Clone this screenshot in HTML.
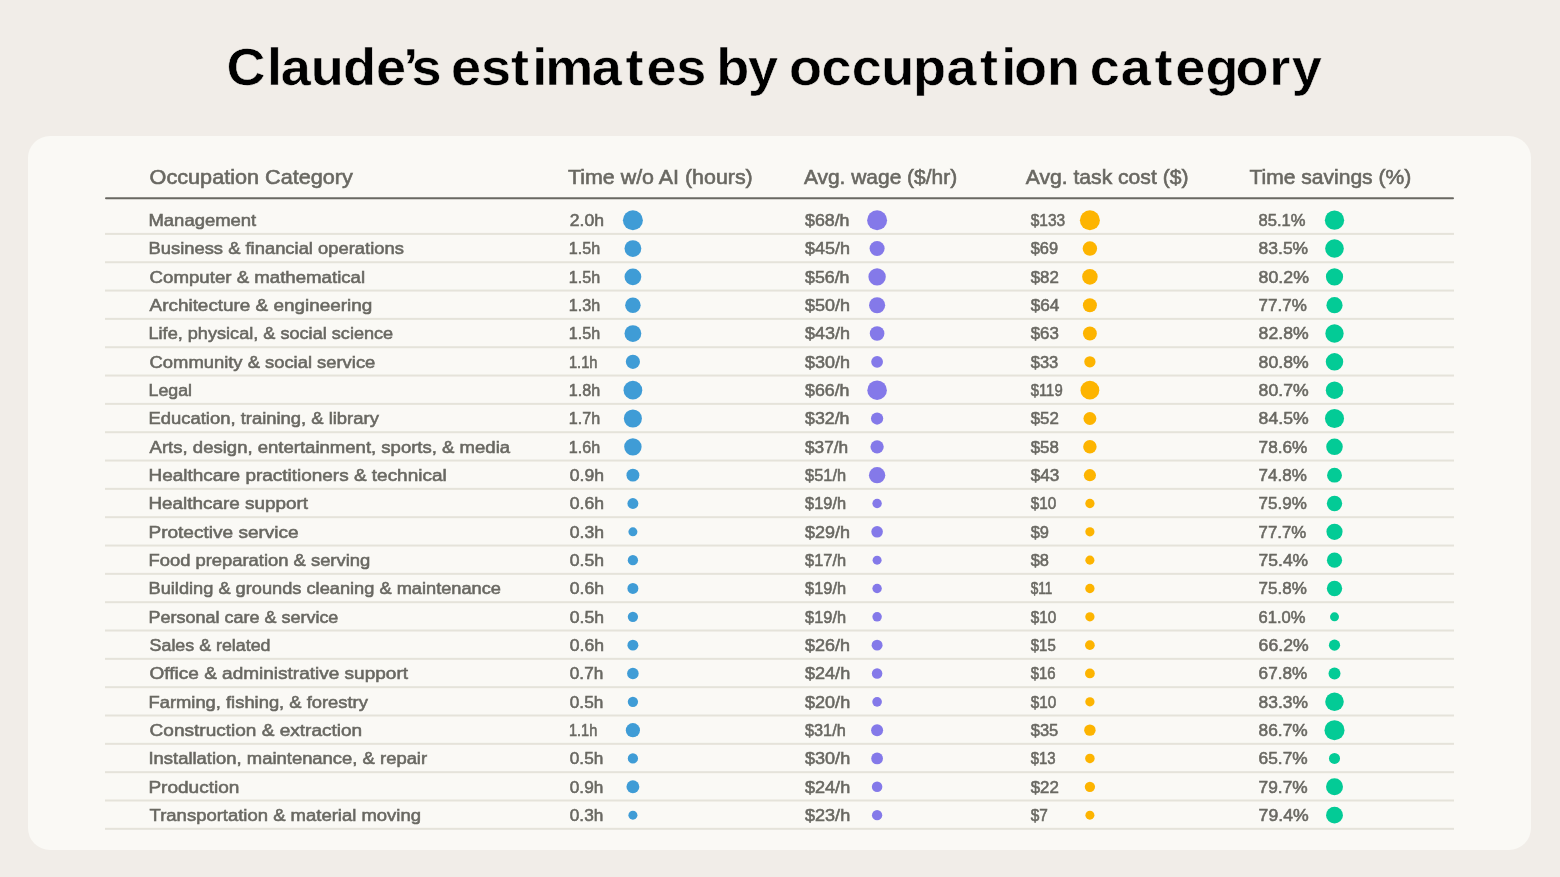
<!DOCTYPE html>
<html><head><meta charset="utf-8"><title>Claude’s estimates by occupation category</title>
<style>
html,body{margin:0;padding:0;background:#F1EDE8;}
body{width:1560px;height:877px;overflow:hidden;}
svg{display:block;}
text{font-family:'Liberation Sans', sans-serif;}
.t{font-size:52.5px;font-weight:700;fill:#000000;stroke:#F1EDE8;stroke-width:0.5px;stroke-linejoin:round;}
.h{font-size:20.8px;font-weight:400;fill:#696862;stroke:#696862;stroke-width:0.6px;}
.r{font-size:16.5px;font-weight:400;fill:#696862;stroke:#696862;stroke-width:0.55px;}
.v{font-size:16.5px;font-weight:400;fill:#696862;stroke:#696862;stroke-width:0.55px;}
</style></head><body>
<svg width="1560" height="877" viewBox="0 0 1560 877">
<rect x="0" y="0" width="1560" height="877" fill="#F1EDE8"/>
<rect x="28" y="136" width="1503" height="714" rx="22" ry="22" fill="#FAF9F5"/>
<rect x="105" y="197.2" width="1349" height="2" rx="1" fill="#696862"/>
<rect x="105" y="232.90" width="1349" height="2" fill="#E5E3DA"/>
<rect x="105" y="261.23" width="1349" height="2" fill="#E5E3DA"/>
<rect x="105" y="289.56" width="1349" height="2" fill="#E5E3DA"/>
<rect x="105" y="317.89" width="1349" height="2" fill="#E5E3DA"/>
<rect x="105" y="346.22" width="1349" height="2" fill="#E5E3DA"/>
<rect x="105" y="374.55" width="1349" height="2" fill="#E5E3DA"/>
<rect x="105" y="402.88" width="1349" height="2" fill="#E5E3DA"/>
<rect x="105" y="431.21" width="1349" height="2" fill="#E5E3DA"/>
<rect x="105" y="459.54" width="1349" height="2" fill="#E5E3DA"/>
<rect x="105" y="487.87" width="1349" height="2" fill="#E5E3DA"/>
<rect x="105" y="516.20" width="1349" height="2" fill="#E5E3DA"/>
<rect x="105" y="544.53" width="1349" height="2" fill="#E5E3DA"/>
<rect x="105" y="572.86" width="1349" height="2" fill="#E5E3DA"/>
<rect x="105" y="601.19" width="1349" height="2" fill="#E5E3DA"/>
<rect x="105" y="629.52" width="1349" height="2" fill="#E5E3DA"/>
<rect x="105" y="657.85" width="1349" height="2" fill="#E5E3DA"/>
<rect x="105" y="686.18" width="1349" height="2" fill="#E5E3DA"/>
<rect x="105" y="714.51" width="1349" height="2" fill="#E5E3DA"/>
<rect x="105" y="742.84" width="1349" height="2" fill="#E5E3DA"/>
<rect x="105" y="771.17" width="1349" height="2" fill="#E5E3DA"/>
<rect x="105" y="799.50" width="1349" height="2" fill="#E5E3DA"/>
<rect x="105" y="827.83" width="1349" height="2" fill="#E5E3DA"/>
<text class="t" transform="scale(1.03,1)" x="220.01 259.21 272.56 301.82 333.04 365.15 391.53 399.63 428.83 437.96 467.05 496.21 516.83 529.36 574.50 607.28 627.57 656.62 685.82 695.39 726.33 755.53 765.93 797.62 827.04 855.55 886.41 918.82 951.40 972.17 984.52 1016.52 1048.59 1058.06 1088.09 1120.82 1141.02 1170.42 1199.57 1232.33 1254.09" y="84.8">Claude’s estimates by occupation category</text>
<text x="149.60" y="184.30" class="h" textLength="203.27" lengthAdjust="spacingAndGlyphs">Occupation Category</text>
<text x="568.00" y="184.30" class="h" textLength="184.75" lengthAdjust="spacingAndGlyphs">Time w/o AI (hours)</text>
<text x="803.90" y="184.30" class="h" textLength="153.23" lengthAdjust="spacingAndGlyphs">Avg. wage ($/hr)</text>
<text x="1025.80" y="184.30" class="h" textLength="162.64" lengthAdjust="spacingAndGlyphs">Avg. task cost ($)</text>
<text x="1249.40" y="184.30" class="h" textLength="161.84" lengthAdjust="spacingAndGlyphs">Time savings (%)</text>
<text x="148.48" y="226.10" class="r" textLength="107.75" lengthAdjust="spacingAndGlyphs">Management</text>
<text x="569.80" y="226.10" class="v" textLength="34.19" lengthAdjust="spacingAndGlyphs">2.0h</text>
<text x="805.00" y="226.10" class="v" textLength="44.49" lengthAdjust="spacingAndGlyphs">$68/h</text>
<text x="1030.70" y="226.10" class="v" textLength="34.57" lengthAdjust="spacingAndGlyphs">$133</text>
<text x="1258.60" y="226.10" class="v" textLength="46.97" lengthAdjust="spacingAndGlyphs">85.1%</text>
<text x="148.49" y="254.43" class="r" textLength="255.39" lengthAdjust="spacingAndGlyphs">Business &amp; financial operations</text>
<text x="568.82" y="254.43" class="v" textLength="31.35" lengthAdjust="spacingAndGlyphs">1.5h</text>
<text x="805.00" y="254.43" class="v" textLength="44.99" lengthAdjust="spacingAndGlyphs">$45/h</text>
<text x="1030.70" y="254.43" class="v" textLength="27.38" lengthAdjust="spacingAndGlyphs">$69</text>
<text x="1258.60" y="254.43" class="v" textLength="49.55" lengthAdjust="spacingAndGlyphs">83.5%</text>
<text x="149.60" y="282.76" class="r" textLength="215.55" lengthAdjust="spacingAndGlyphs">Computer &amp; mathematical</text>
<text x="568.82" y="282.76" class="v" textLength="31.35" lengthAdjust="spacingAndGlyphs">1.5h</text>
<text x="805.00" y="282.76" class="v" textLength="44.49" lengthAdjust="spacingAndGlyphs">$56/h</text>
<text x="1030.70" y="282.76" class="v" textLength="28.18" lengthAdjust="spacingAndGlyphs">$82</text>
<text x="1258.60" y="282.76" class="v" textLength="50.35" lengthAdjust="spacingAndGlyphs">80.2%</text>
<text x="149.60" y="311.09" class="r" textLength="222.60" lengthAdjust="spacingAndGlyphs">Architecture &amp; engineering</text>
<text x="568.82" y="311.09" class="v" textLength="31.35" lengthAdjust="spacingAndGlyphs">1.3h</text>
<text x="805.00" y="311.09" class="v" textLength="44.99" lengthAdjust="spacingAndGlyphs">$50/h</text>
<text x="1030.70" y="311.09" class="v" textLength="28.68" lengthAdjust="spacingAndGlyphs">$64</text>
<text x="1258.60" y="311.09" class="v" textLength="48.26" lengthAdjust="spacingAndGlyphs">77.7%</text>
<text x="148.50" y="339.42" class="r" textLength="244.69" lengthAdjust="spacingAndGlyphs">Life, physical, &amp; social science</text>
<text x="568.82" y="339.42" class="v" textLength="31.35" lengthAdjust="spacingAndGlyphs">1.5h</text>
<text x="805.00" y="339.42" class="v" textLength="44.99" lengthAdjust="spacingAndGlyphs">$43/h</text>
<text x="1030.70" y="339.42" class="v" textLength="28.18" lengthAdjust="spacingAndGlyphs">$63</text>
<text x="1258.60" y="339.42" class="v" textLength="50.05" lengthAdjust="spacingAndGlyphs">82.8%</text>
<text x="149.60" y="367.75" class="r" textLength="225.70" lengthAdjust="spacingAndGlyphs">Community &amp; social service</text>
<text x="568.91" y="367.75" class="v" textLength="28.65" lengthAdjust="spacingAndGlyphs">1.1h</text>
<text x="805.00" y="367.75" class="v" textLength="44.99" lengthAdjust="spacingAndGlyphs">$30/h</text>
<text x="1030.70" y="367.75" class="v" textLength="27.58" lengthAdjust="spacingAndGlyphs">$33</text>
<text x="1258.60" y="367.75" class="v" textLength="50.05" lengthAdjust="spacingAndGlyphs">80.8%</text>
<text x="148.52" y="396.08" class="r" textLength="43.49" lengthAdjust="spacingAndGlyphs">Legal</text>
<text x="568.82" y="396.08" class="v" textLength="31.35" lengthAdjust="spacingAndGlyphs">1.8h</text>
<text x="805.00" y="396.08" class="v" textLength="44.49" lengthAdjust="spacingAndGlyphs">$66/h</text>
<text x="1030.70" y="396.08" class="v" textLength="31.96" lengthAdjust="spacingAndGlyphs">$119</text>
<text x="1258.60" y="396.08" class="v" textLength="50.05" lengthAdjust="spacingAndGlyphs">80.7%</text>
<text x="148.48" y="424.41" class="r" textLength="230.38" lengthAdjust="spacingAndGlyphs">Education, training, &amp; library</text>
<text x="568.82" y="424.41" class="v" textLength="31.35" lengthAdjust="spacingAndGlyphs">1.7h</text>
<text x="805.00" y="424.41" class="v" textLength="44.49" lengthAdjust="spacingAndGlyphs">$32/h</text>
<text x="1030.70" y="424.41" class="v" textLength="28.18" lengthAdjust="spacingAndGlyphs">$52</text>
<text x="1258.60" y="424.41" class="v" textLength="50.05" lengthAdjust="spacingAndGlyphs">84.5%</text>
<text x="149.60" y="452.74" class="r" textLength="360.48" lengthAdjust="spacingAndGlyphs">Arts, design, entertainment, sports, &amp; media</text>
<text x="568.82" y="452.74" class="v" textLength="31.35" lengthAdjust="spacingAndGlyphs">1.6h</text>
<text x="805.00" y="452.74" class="v" textLength="43.18" lengthAdjust="spacingAndGlyphs">$37/h</text>
<text x="1030.70" y="452.74" class="v" textLength="28.18" lengthAdjust="spacingAndGlyphs">$58</text>
<text x="1258.60" y="452.74" class="v" textLength="48.86" lengthAdjust="spacingAndGlyphs">78.6%</text>
<text x="148.45" y="481.07" class="r" textLength="298.21" lengthAdjust="spacingAndGlyphs">Healthcare practitioners &amp; technical</text>
<text x="569.80" y="481.07" class="v" textLength="34.19" lengthAdjust="spacingAndGlyphs">0.9h</text>
<text x="805.00" y="481.07" class="v" textLength="41.08" lengthAdjust="spacingAndGlyphs">$51/h</text>
<text x="1030.70" y="481.07" class="v" textLength="28.68" lengthAdjust="spacingAndGlyphs">$43</text>
<text x="1258.60" y="481.07" class="v" textLength="48.26" lengthAdjust="spacingAndGlyphs">74.8%</text>
<text x="148.46" y="509.40" class="r" textLength="159.57" lengthAdjust="spacingAndGlyphs">Healthcare support</text>
<text x="569.80" y="509.40" class="v" textLength="34.19" lengthAdjust="spacingAndGlyphs">0.6h</text>
<text x="805.00" y="509.40" class="v" textLength="41.08" lengthAdjust="spacingAndGlyphs">$19/h</text>
<text x="1030.70" y="509.40" class="v" textLength="25.56" lengthAdjust="spacingAndGlyphs">$10</text>
<text x="1258.60" y="509.40" class="v" textLength="48.26" lengthAdjust="spacingAndGlyphs">75.9%</text>
<text x="148.45" y="537.73" class="r" textLength="150.26" lengthAdjust="spacingAndGlyphs">Protective service</text>
<text x="569.80" y="537.73" class="v" textLength="34.19" lengthAdjust="spacingAndGlyphs">0.3h</text>
<text x="805.00" y="537.73" class="v" textLength="44.99" lengthAdjust="spacingAndGlyphs">$29/h</text>
<text x="1030.70" y="537.73" class="v" textLength="18.28" lengthAdjust="spacingAndGlyphs">$9</text>
<text x="1258.60" y="537.73" class="v" textLength="47.76" lengthAdjust="spacingAndGlyphs">77.7%</text>
<text x="148.49" y="566.06" class="r" textLength="221.71" lengthAdjust="spacingAndGlyphs">Food preparation &amp; serving</text>
<text x="569.80" y="566.06" class="v" textLength="34.19" lengthAdjust="spacingAndGlyphs">0.5h</text>
<text x="805.00" y="566.06" class="v" textLength="41.08" lengthAdjust="spacingAndGlyphs">$17/h</text>
<text x="1030.70" y="566.06" class="v" textLength="18.28" lengthAdjust="spacingAndGlyphs">$8</text>
<text x="1258.60" y="566.06" class="v" textLength="49.55" lengthAdjust="spacingAndGlyphs">75.4%</text>
<text x="148.50" y="594.39" class="r" textLength="352.50" lengthAdjust="spacingAndGlyphs">Building &amp; grounds cleaning &amp; maintenance</text>
<text x="569.80" y="594.39" class="v" textLength="34.19" lengthAdjust="spacingAndGlyphs">0.6h</text>
<text x="805.00" y="594.39" class="v" textLength="41.08" lengthAdjust="spacingAndGlyphs">$19/h</text>
<text x="1030.70" y="594.39" class="v" textLength="21.65" lengthAdjust="spacingAndGlyphs">$11</text>
<text x="1258.60" y="594.39" class="v" textLength="48.26" lengthAdjust="spacingAndGlyphs">75.8%</text>
<text x="148.51" y="622.72" class="r" textLength="189.88" lengthAdjust="spacingAndGlyphs">Personal care &amp; service</text>
<text x="569.80" y="622.72" class="v" textLength="34.19" lengthAdjust="spacingAndGlyphs">0.5h</text>
<text x="805.00" y="622.72" class="v" textLength="41.08" lengthAdjust="spacingAndGlyphs">$19/h</text>
<text x="1030.70" y="622.72" class="v" textLength="25.56" lengthAdjust="spacingAndGlyphs">$10</text>
<text x="1258.60" y="622.72" class="v" textLength="46.97" lengthAdjust="spacingAndGlyphs">61.0%</text>
<text x="149.60" y="651.05" class="r" textLength="120.89" lengthAdjust="spacingAndGlyphs">Sales &amp; related</text>
<text x="569.80" y="651.05" class="v" textLength="34.19" lengthAdjust="spacingAndGlyphs">0.6h</text>
<text x="805.00" y="651.05" class="v" textLength="44.99" lengthAdjust="spacingAndGlyphs">$26/h</text>
<text x="1030.70" y="651.05" class="v" textLength="25.06" lengthAdjust="spacingAndGlyphs">$15</text>
<text x="1258.60" y="651.05" class="v" textLength="50.05" lengthAdjust="spacingAndGlyphs">66.2%</text>
<text x="149.60" y="679.38" class="r" textLength="258.42" lengthAdjust="spacingAndGlyphs">Office &amp; administrative support</text>
<text x="569.80" y="679.38" class="v" textLength="33.48" lengthAdjust="spacingAndGlyphs">0.7h</text>
<text x="805.00" y="679.38" class="v" textLength="45.19" lengthAdjust="spacingAndGlyphs">$24/h</text>
<text x="1030.70" y="679.38" class="v" textLength="24.96" lengthAdjust="spacingAndGlyphs">$16</text>
<text x="1258.60" y="679.38" class="v" textLength="48.66" lengthAdjust="spacingAndGlyphs">67.8%</text>
<text x="148.49" y="707.71" class="r" textLength="219.38" lengthAdjust="spacingAndGlyphs">Farming, fishing, &amp; forestry</text>
<text x="569.80" y="707.71" class="v" textLength="33.48" lengthAdjust="spacingAndGlyphs">0.5h</text>
<text x="805.00" y="707.71" class="v" textLength="45.19" lengthAdjust="spacingAndGlyphs">$20/h</text>
<text x="1030.70" y="707.71" class="v" textLength="25.56" lengthAdjust="spacingAndGlyphs">$10</text>
<text x="1258.60" y="707.71" class="v" textLength="49.45" lengthAdjust="spacingAndGlyphs">83.3%</text>
<text x="149.60" y="736.04" class="r" textLength="212.60" lengthAdjust="spacingAndGlyphs">Construction &amp; extraction</text>
<text x="568.92" y="736.04" class="v" textLength="28.34" lengthAdjust="spacingAndGlyphs">1.1h</text>
<text x="805.00" y="736.04" class="v" textLength="40.77" lengthAdjust="spacingAndGlyphs">$31/h</text>
<text x="1030.70" y="736.04" class="v" textLength="27.58" lengthAdjust="spacingAndGlyphs">$35</text>
<text x="1258.60" y="736.04" class="v" textLength="49.06" lengthAdjust="spacingAndGlyphs">86.7%</text>
<text x="148.48" y="764.37" class="r" textLength="278.65" lengthAdjust="spacingAndGlyphs">Installation, maintenance, &amp; repair</text>
<text x="569.80" y="764.37" class="v" textLength="33.48" lengthAdjust="spacingAndGlyphs">0.5h</text>
<text x="805.00" y="764.37" class="v" textLength="45.19" lengthAdjust="spacingAndGlyphs">$30/h</text>
<text x="1030.70" y="764.37" class="v" textLength="24.96" lengthAdjust="spacingAndGlyphs">$13</text>
<text x="1258.60" y="764.37" class="v" textLength="49.06" lengthAdjust="spacingAndGlyphs">65.7%</text>
<text x="148.45" y="792.70" class="r" textLength="90.96" lengthAdjust="spacingAndGlyphs">Production</text>
<text x="569.80" y="792.70" class="v" textLength="33.48" lengthAdjust="spacingAndGlyphs">0.9h</text>
<text x="805.00" y="792.70" class="v" textLength="45.19" lengthAdjust="spacingAndGlyphs">$24/h</text>
<text x="1030.70" y="792.70" class="v" textLength="28.18" lengthAdjust="spacingAndGlyphs">$22</text>
<text x="1258.60" y="792.70" class="v" textLength="49.06" lengthAdjust="spacingAndGlyphs">79.7%</text>
<text x="149.60" y="821.03" class="r" textLength="271.40" lengthAdjust="spacingAndGlyphs">Transportation &amp; material moving</text>
<text x="569.80" y="821.03" class="v" textLength="33.48" lengthAdjust="spacingAndGlyphs">0.3h</text>
<text x="805.00" y="821.03" class="v" textLength="45.19" lengthAdjust="spacingAndGlyphs">$23/h</text>
<text x="1030.70" y="821.03" class="v" textLength="17.17" lengthAdjust="spacingAndGlyphs">$7</text>
<text x="1258.60" y="821.03" class="v" textLength="50.05" lengthAdjust="spacingAndGlyphs">79.4%</text>
<circle cx="632.9" cy="220.20" r="10.00" fill="#3F9CD6"/>
<circle cx="632.9" cy="248.53" r="8.38" fill="#3F9CD6"/>
<circle cx="632.9" cy="276.86" r="8.38" fill="#3F9CD6"/>
<circle cx="632.9" cy="305.19" r="7.74" fill="#3F9CD6"/>
<circle cx="632.9" cy="333.52" r="8.38" fill="#3F9CD6"/>
<circle cx="632.9" cy="361.85" r="7.09" fill="#3F9CD6"/>
<circle cx="632.9" cy="390.18" r="9.35" fill="#3F9CD6"/>
<circle cx="632.9" cy="418.51" r="9.03" fill="#3F9CD6"/>
<circle cx="632.9" cy="446.84" r="8.71" fill="#3F9CD6"/>
<circle cx="632.9" cy="475.17" r="6.44" fill="#3F9CD6"/>
<circle cx="632.9" cy="503.50" r="5.47" fill="#3F9CD6"/>
<circle cx="632.9" cy="531.83" r="4.50" fill="#3F9CD6"/>
<circle cx="632.9" cy="560.16" r="5.15" fill="#3F9CD6"/>
<circle cx="632.9" cy="588.49" r="5.47" fill="#3F9CD6"/>
<circle cx="632.9" cy="616.82" r="5.15" fill="#3F9CD6"/>
<circle cx="632.9" cy="645.15" r="5.47" fill="#3F9CD6"/>
<circle cx="632.9" cy="673.48" r="5.79" fill="#3F9CD6"/>
<circle cx="632.9" cy="701.81" r="5.15" fill="#3F9CD6"/>
<circle cx="632.9" cy="730.14" r="7.09" fill="#3F9CD6"/>
<circle cx="632.9" cy="758.47" r="5.15" fill="#3F9CD6"/>
<circle cx="632.9" cy="786.80" r="6.44" fill="#3F9CD6"/>
<circle cx="632.9" cy="815.13" r="4.50" fill="#3F9CD6"/>
<circle cx="877.1" cy="220.20" r="10.00" fill="#8479E9"/>
<circle cx="877.1" cy="248.53" r="7.52" fill="#8479E9"/>
<circle cx="877.1" cy="276.86" r="8.71" fill="#8479E9"/>
<circle cx="877.1" cy="305.19" r="8.06" fill="#8479E9"/>
<circle cx="877.1" cy="333.52" r="7.30" fill="#8479E9"/>
<circle cx="877.1" cy="361.85" r="5.90" fill="#8479E9"/>
<circle cx="877.1" cy="390.18" r="9.78" fill="#8479E9"/>
<circle cx="877.1" cy="418.51" r="6.12" fill="#8479E9"/>
<circle cx="877.1" cy="446.84" r="6.66" fill="#8479E9"/>
<circle cx="877.1" cy="475.17" r="8.17" fill="#8479E9"/>
<circle cx="877.1" cy="503.50" r="4.72" fill="#8479E9"/>
<circle cx="877.1" cy="531.83" r="5.79" fill="#8479E9"/>
<circle cx="877.1" cy="560.16" r="4.50" fill="#8479E9"/>
<circle cx="877.1" cy="588.49" r="4.72" fill="#8479E9"/>
<circle cx="877.1" cy="616.82" r="4.72" fill="#8479E9"/>
<circle cx="877.1" cy="645.15" r="5.47" fill="#8479E9"/>
<circle cx="877.1" cy="673.48" r="5.25" fill="#8479E9"/>
<circle cx="877.1" cy="701.81" r="4.82" fill="#8479E9"/>
<circle cx="877.1" cy="730.14" r="6.01" fill="#8479E9"/>
<circle cx="877.1" cy="758.47" r="5.90" fill="#8479E9"/>
<circle cx="877.1" cy="786.80" r="5.25" fill="#8479E9"/>
<circle cx="877.1" cy="815.13" r="5.15" fill="#8479E9"/>
<circle cx="1089.9" cy="220.20" r="10.00" fill="#FDB400"/>
<circle cx="1089.9" cy="248.53" r="7.21" fill="#FDB400"/>
<circle cx="1089.9" cy="276.86" r="7.77" fill="#FDB400"/>
<circle cx="1089.9" cy="305.19" r="6.99" fill="#FDB400"/>
<circle cx="1089.9" cy="333.52" r="6.94" fill="#FDB400"/>
<circle cx="1089.9" cy="361.85" r="5.63" fill="#FDB400"/>
<circle cx="1089.9" cy="390.18" r="9.39" fill="#FDB400"/>
<circle cx="1089.9" cy="418.51" r="6.46" fill="#FDB400"/>
<circle cx="1089.9" cy="446.84" r="6.73" fill="#FDB400"/>
<circle cx="1089.9" cy="475.17" r="6.07" fill="#FDB400"/>
<circle cx="1089.9" cy="503.50" r="4.63" fill="#FDB400"/>
<circle cx="1089.9" cy="531.83" r="4.59" fill="#FDB400"/>
<circle cx="1089.9" cy="560.16" r="4.54" fill="#FDB400"/>
<circle cx="1089.9" cy="588.49" r="4.67" fill="#FDB400"/>
<circle cx="1089.9" cy="616.82" r="4.63" fill="#FDB400"/>
<circle cx="1089.9" cy="645.15" r="4.85" fill="#FDB400"/>
<circle cx="1089.9" cy="673.48" r="4.89" fill="#FDB400"/>
<circle cx="1089.9" cy="701.81" r="4.63" fill="#FDB400"/>
<circle cx="1089.9" cy="730.14" r="5.72" fill="#FDB400"/>
<circle cx="1089.9" cy="758.47" r="4.76" fill="#FDB400"/>
<circle cx="1089.9" cy="786.80" r="5.15" fill="#FDB400"/>
<circle cx="1089.9" cy="815.13" r="4.50" fill="#FDB400"/>
<circle cx="1334.5" cy="220.20" r="9.66" fill="#03CB96"/>
<circle cx="1334.5" cy="248.53" r="9.32" fill="#03CB96"/>
<circle cx="1334.5" cy="276.86" r="8.61" fill="#03CB96"/>
<circle cx="1334.5" cy="305.19" r="8.07" fill="#03CB96"/>
<circle cx="1334.5" cy="333.52" r="9.17" fill="#03CB96"/>
<circle cx="1334.5" cy="361.85" r="8.74" fill="#03CB96"/>
<circle cx="1334.5" cy="390.18" r="8.72" fill="#03CB96"/>
<circle cx="1334.5" cy="418.51" r="9.53" fill="#03CB96"/>
<circle cx="1334.5" cy="446.84" r="8.27" fill="#03CB96"/>
<circle cx="1334.5" cy="475.17" r="7.45" fill="#03CB96"/>
<circle cx="1334.5" cy="503.50" r="7.69" fill="#03CB96"/>
<circle cx="1334.5" cy="531.83" r="8.07" fill="#03CB96"/>
<circle cx="1334.5" cy="560.16" r="7.58" fill="#03CB96"/>
<circle cx="1334.5" cy="588.49" r="7.67" fill="#03CB96"/>
<circle cx="1334.5" cy="616.82" r="4.50" fill="#03CB96"/>
<circle cx="1334.5" cy="645.15" r="5.61" fill="#03CB96"/>
<circle cx="1334.5" cy="673.48" r="5.96" fill="#03CB96"/>
<circle cx="1334.5" cy="701.81" r="9.27" fill="#03CB96"/>
<circle cx="1334.5" cy="730.14" r="10.00" fill="#03CB96"/>
<circle cx="1334.5" cy="758.47" r="5.51" fill="#03CB96"/>
<circle cx="1334.5" cy="786.80" r="8.50" fill="#03CB96"/>
<circle cx="1334.5" cy="815.13" r="8.44" fill="#03CB96"/>
</svg>
</body></html>
